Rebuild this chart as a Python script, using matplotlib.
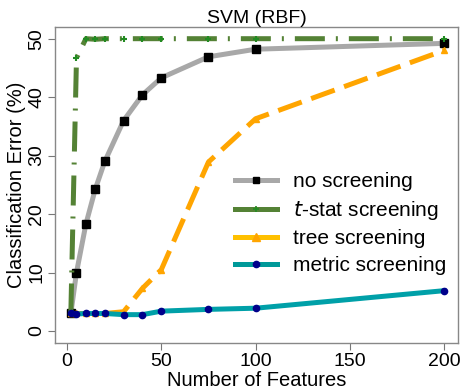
import matplotlib
matplotlib.use("Agg")
import matplotlib.pyplot as plt
from matplotlib.lines import Line2D

plt.rcParams['font.family'] = ['Liberation Sans', 'DejaVu Sans']

# number of features kept after screening
n_features = [2, 5, 10, 15, 20, 30, 40, 50, 75, 100, 200]

# classification error (%) per screening method
err_none = [3.0, 10.0, 18.3, 24.3, 29.0, 36.0, 40.4, 43.3, 46.9, 48.2, 49.2]
err_tstat = [3.0, 46.7, 50.0, 49.9, 50.0, 50.0, 50.0, 50.0, 50.0, 50.0, 50.0]
err_tree = [3.0, 3.0, 3.0, 3.0, 3.0, 3.3, 7.3, 10.5, 28.9, 36.3, 48.0]
err_metric = [3.0, 2.9, 3.0, 3.0, 3.0, 2.8, 2.8, 3.4, 3.7, 3.9, 6.9]

labels = ['no screening', '$t$-stat screening', 'tree screening',
          'metric screening']
x_ticks = [0, 50, 100, 150, 200]
y_ticks = [0, 10, 20, 30, 40, 50]

fig = plt.figure(figsize=(4.61, 3.91), dpi=100)
ax = fig.add_axes([55 / 461, 48 / 391, 403 / 461, 316 / 391])

ax.plot(n_features, err_none, color='#a8a8a8', lw=3.6, marker='s',
        ms=5.5, mfc='black', mec='black', zorder=3)
ax.plot(n_features, err_tstat, color='#548235', lw=3.6,
        dashes=(6, 2.2, 0.4, 2.2), marker='+', ms=4, mec='#228b22',
        mew=1.5, zorder=4)
ax.plot(n_features, err_tree, color='#ffa500', lw=3.6, dashes=(5, 2),
        marker='^', ms=5, mfc='#ffa500', mec='#ffa500', zorder=5)
ax.plot(n_features, err_metric, color='#00a0a8', lw=3.6, marker='o',
        ms=4.5, mfc='#00008b', mec='#00008b', zorder=6)

ax.set_xlim(-6.4, 207.4)
ax.set_ylim(-2.05, 52.0)
ax.set_xticks(x_ticks)
ax.set_yticks(y_ticks)
ax.tick_params(axis='both', labelsize=14, length=5, color='#777777',
               direction='out', pad=2)
for lab in ax.get_yticklabels():
    lab.set_rotation(90)
    lab.set_va('center')
for s in ax.spines.values():
    s.set_color('#888888')
    s.set_linewidth(1.0)

ax.set_xlabel('Number of Features', fontsize=14.5, labelpad=1)
ax.set_ylabel('Classification Error (%)', fontsize=14.5, labelpad=2)
ax.set_title('SVM (RBF)', fontsize=14, pad=3)

# legend keys are solid lines with a single marker
keys = [
    Line2D([], [], color='#a8a8a8', lw=3.6, marker='s', ms=5,
           mfc='black', mec='black'),
    Line2D([], [], color='#548235', lw=3.6, marker='+', ms=4,
           mec='#228b22', mew=1.2),
    Line2D([], [], color='#ffc000', lw=3.6, marker='^', ms=5.5,
           mfc='#ffa500', mec='#ffa500'),
    Line2D([], [], color='#009999', lw=3.6, marker='o', ms=4.5,
           mfc='#00008b', mec='#00008b'),
]
ax.legend(keys, labels, loc='center left', bbox_to_anchor=(0.40, 0.378),
          frameon=False, fontsize=15, handlelength=2.0,
          labelspacing=0.36, handletextpad=0.8)

fig.savefig('out.png', dpi=100)
